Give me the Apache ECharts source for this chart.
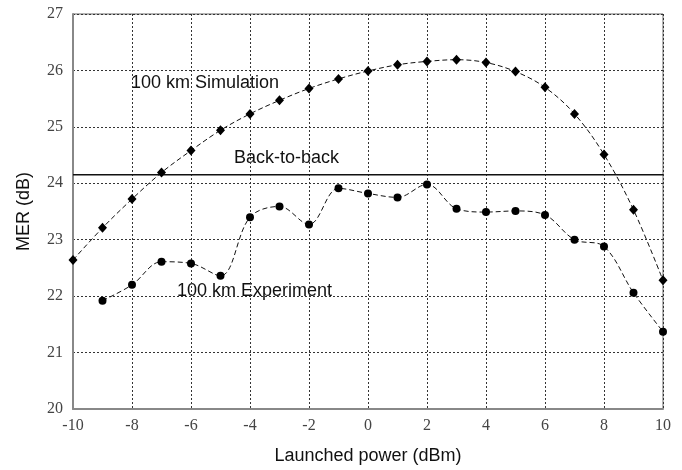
<!DOCTYPE html>
<html>
<head>
<meta charset="utf-8">
<script src="https://cdn.jsdelivr.net/npm/echarts@6/dist/echarts.min.js"></script>
<style>
  html, body { margin: 0; padding: 0; background: #fff; }
  #chart { width: 682px; height: 470px; }
</style>
</head>
<body>
<div id="chart"></div>
<script>
// Launched power sweep (dBm)
const powerSim = [-10, -9, -8, -7, -6, -5, -4, -3, -2, -1, 0, 1, 2, 3, 4, 5, 6, 7, 8, 9, 10];
const merSim = [22.64, 23.21, 23.72, 24.19, 24.58, 24.94, 25.23, 25.47, 25.68, 25.85, 25.99,
                26.10, 26.16, 26.19, 26.14, 25.98, 25.70, 25.23, 24.51, 23.53, 22.28];

const powerExp = [-9, -8, -7, -6, -5, -4, -3, -2, -1, 0, 1, 2, 3, 4, 5, 6, 7, 8, 9, 10];
const merExp = [21.92, 22.20, 22.61, 22.58, 22.36, 23.40, 23.59, 23.27, 23.91, 23.82,
                23.75, 23.98, 23.55, 23.49, 23.51, 23.44, 23.00, 22.88, 22.06, 21.37];

// Back-to-back reference level (dB)
const backToBack = 24.15;
const xRange = [-10, 10];

const xTicks = { min: -10, max: 10, interval: 2 };
const yTicks = { min: 20, max: 27, interval: 1 };

const pairs = (xs, ys) => xs.map((x, i) => [x, ys[i]]);

const chart = echarts.init(document.getElementById('chart'), null, { renderer: 'canvas' });

const gridLine = { show: true, lineStyle: { color: '#333', width: 1, type: [2, 2] } };
const tickFont = { fontFamily: 'Liberation Serif', fontSize: 16, color: '#444' };
const nameFont = { fontFamily: 'Liberation Sans', fontSize: 18, color: '#111' };
const noteFont = '18px "Liberation Sans"';

chart.setOption({
  animation: false,
  backgroundColor: '#fff',
  grid: {
    left: 73, right: 19, top: 14, bottom: 58,
    show: true, borderColor: '#666', borderWidth: 1
  },
  xAxis: {
    type: 'value',
    min: xTicks.min, max: xTicks.max, interval: xTicks.interval,
    axisLine: { show: true, onZero: false, lineStyle: { color: '#888', width: 2 } },
    axisTick: { show: false },
    splitLine: gridLine,
    axisLabel: Object.assign({ margin: 9 }, tickFont),
    name: 'Launched power (dBm)',
    nameLocation: 'middle',
    nameGap: 38,
    nameTextStyle: nameFont
  },
  yAxis: {
    type: 'value',
    min: yTicks.min, max: yTicks.max, interval: yTicks.interval,
    axisLine: { show: true, onZero: false, lineStyle: { color: '#888', width: 2 } },
    axisTick: { show: false },
    splitLine: gridLine,
    axisLabel: Object.assign({ margin: 10 }, tickFont),
    name: 'MER (dB)',
    nameLocation: 'middle',
    nameGap: 40,
    nameTextStyle: nameFont
  },
  series: [
    {
      name: '100 km Simulation',
      type: 'line',
      data: pairs(powerSim, merSim),
      smooth: 0.35,
      symbol: 'diamond',
      symbolSize: [9, 10],
      itemStyle: { color: '#000' },
      lineStyle: { color: '#111', width: 1, type: [5, 3] },
      z: 3
    },
    {
      name: '100 km Experiment',
      type: 'line',
      data: pairs(powerExp, merExp),
      smooth: 0.35,
      symbol: 'circle',
      symbolSize: 8,
      itemStyle: { color: '#000' },
      lineStyle: { color: '#111', width: 1, type: [5, 3] },
      z: 3
    },
    {
      name: 'Back-to-back',
      type: 'line',
      data: xRange.map(x => [x, backToBack]),
      symbol: 'none',
      lineStyle: { color: '#111', width: 1.5, type: 'solid' },
      z: 2
    }
  ],
  graphic: [
    { type: 'text', left: 131, top: 74,
      style: { text: '100 km Simulation', font: noteFont, fill: '#111' } },
    { type: 'text', left: 234, top: 149,
      style: { text: 'Back-to-back', font: noteFont, fill: '#111' } },
    { type: 'text', left: 177, top: 282,
      style: { text: '100 km Experiment', font: noteFont, fill: '#111' } }
  ]
});
</script>
</body>
</html>
